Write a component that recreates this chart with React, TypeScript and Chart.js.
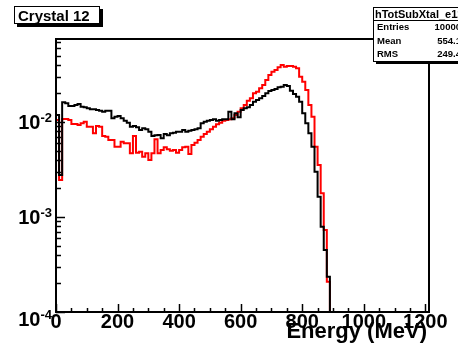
import React, { useEffect, useRef } from 'react';
import { Chart, registerables } from 'chart.js';

Chart.register(...registerables);

// ---- data (10 MeV bins starting at 0 MeV) ----
const binStart = 0;
const binWidth = 10;
const blackCounts = [
  0.01185, 0.00277, 0.01612, 0.01573, 0.01474, 0.01474, 0.0151, 0.01547, 0.0145, 0.01428,
  0.01394, 0.0136, 0.0136, 0.01338, 0.01315, 0.01284, 0.01315, 0.01315, 0.01094, 0.01137,
  0.01156, 0.01094, 0.01032, 0.00983, 0.00892, 0.00907, 0.0088, 0.00824, 0.00858, 0.00838,
  0.0079, 0.00712, 0.00724, 0.0073, 0.00674, 0.00748, 0.00724, 0.0076, 0.00772, 0.0079,
  0.0079, 0.00824, 0.0079, 0.0081, 0.00824, 0.00838, 0.00858, 0.0097, 0.01007, 0.01032,
  0.0105, 0.01068, 0.01032, 0.0105, 0.01068, 0.01068, 0.01284, 0.01068, 0.01235, 0.0112,
  0.01338, 0.01394, 0.01428, 0.0151, 0.01636, 0.01704, 0.01777, 0.01878, 0.02005, 0.0212,
  0.02172, 0.02226, 0.02319, 0.02353, 0.02452, 0.02393, 0.02136, 0.01971, 0.01846, 0.01636,
  0.01235, 0.0097, 0.0076, 0.0055, 0.003, 0.001636, 0.00079, 0.000449, 0.000235,
];
const redCounts = [
  0.0105, 0.00245, 0.01075, 0.01075, 0.0105, 0.00953, 0.00953, 0.0093, 0.0097, 0.01007,
  0.00892, 0.00892, 0.0076, 0.00907, 0.00892, 0.00712, 0.007, 0.00646, 0.00646, 0.0055,
  0.0055, 0.0062, 0.00597, 0.00597, 0.00468, 0.00712, 0.00475, 0.00487, 0.00431, 0.00468,
  0.00398, 0.00468, 0.00657, 0.00468, 0.00507, 0.00542, 0.00516, 0.00499, 0.00507, 0.00475,
  0.00507, 0.00542, 0.0055, 0.0046, 0.00573, 0.00605, 0.00646, 0.007, 0.00748, 0.0079,
  0.00838, 0.00892, 0.00946, 0.00983, 0.01032, 0.0105, 0.01068, 0.01094, 0.01185, 0.01284,
  0.01394, 0.0151, 0.01676, 0.01777, 0.02005, 0.02084, 0.02263, 0.02452, 0.02768, 0.03125,
  0.03385, 0.03527, 0.03766, 0.03981, 0.0382, 0.03886, 0.03886, 0.0382, 0.03676, 0.02999,
  0.02656, 0.02172, 0.0151, 0.01137, 0.0055, 0.00353, 0.00178, 0.00073, 0.000208,
];

const xMajorTicks = [0, 200, 400, 600, 800, 1000, 1200];
const xMinorStep = 50;
const yDecades = [-4, -3, -2];
const X_MIN = 0;
const X_MAX = 1212;
const Y_MIN = 1e-4;
const Y_MAX = 0.0748;

const titleText = 'Crystal 12';
const statsName = 'hTotSubXtal_e12';
const statsLabels = ['Entries', 'Mean', 'RMS'];
const statsValues = ['10000', '554.1', '249.4'];
const xTitle = 'Energy (MeV)';

const FONT = '"Liberation Sans", Arial, Helvetica, sans-serif';

function toSteps(vals: number[]) {
  const pts = vals.map((v, i) => ({ x: binStart + i * binWidth, y: v }));
  pts.push({ x: binStart + vals.length * binWidth, y: Y_MIN });
  return pts;
}

const decor = {
  id: 'rootDecor',
  afterDraw(chart: any) {
    const { ctx, chartArea: a, scales } = chart;
    const xs = scales.x;
    const ys = scales.y;
    ctx.save();
    ctx.strokeStyle = '#000';
    ctx.fillStyle = '#000';
    ctx.lineWidth = 2;
    // frame
    ctx.strokeRect(a.left, a.top, a.right - a.left, a.bottom - a.top);

    // x ticks
    ctx.lineWidth = 1.5;
    for (let v = X_MIN; v <= xMajorTicks[xMajorTicks.length - 1]; v += xMinorStep) {
      const px = Math.round(xs.getPixelForValue(v)) + 0.5;
      const major = xMajorTicks.includes(v);
      ctx.beginPath();
      ctx.moveTo(px, a.bottom);
      ctx.lineTo(px, a.bottom - (major ? 8 : 4));
      ctx.stroke();
    }
    // y ticks
    for (const d of yDecades) {
      for (let m = 1; m <= 9; m++) {
        const v = m * Math.pow(10, d);
        if (v < Y_MIN || v > Y_MAX) continue;
        const py = Math.round(ys.getPixelForValue(v)) + 0.5;
        ctx.beginPath();
        ctx.moveTo(a.left, py);
        ctx.lineTo(a.left + (m === 1 ? 9 : 5), py);
        ctx.stroke();
      }
    }
    // x labels
    ctx.font = `bold 20px ${FONT}`;
    ctx.textAlign = 'center';
    ctx.textBaseline = 'alphabetic';
    for (const v of xMajorTicks) {
      ctx.fillText(String(v), xs.getPixelForValue(v), a.bottom + 16);
    }
    // y labels 10^n
    for (const d of yDecades) {
      let py = ys.getPixelForValue(Math.pow(10, d));
      if (py > a.bottom - 2) py += 7;
      const sup = String(d);
      ctx.font = `bold 13px ${FONT}`;
      ctx.textAlign = 'right';
      const supW = ctx.measureText(sup).width;
      const right = a.left - 4;
      ctx.fillText(sup, right, py + 0);
      ctx.font = `bold 20px ${FONT}`;
      ctx.fillText('10', right - supW, py + 7);
    }
    // x title
    ctx.font = `bold 22px ${FONT}`;
    ctx.textAlign = 'right';
    ctx.fillText(xTitle, a.right - 2, a.bottom + 26);

    // title box
    ctx.fillStyle = '#000';
    ctx.fillRect(17, 9, 86, 18);
    ctx.fillStyle = '#fff';
    ctx.fillRect(14, 6, 86, 18);
    ctx.lineWidth = 1;
    ctx.strokeRect(14.5, 6.5, 85, 17);
    ctx.fillStyle = '#000';
    ctx.font = `bold 15px ${FONT}`;
    ctx.textAlign = 'left';
    ctx.fillText(titleText, 18, 21);

    // stats box
    const bx = 373, by = 7, bw = 100, bh = 54;
    ctx.fillStyle = '#000';
    ctx.fillRect(bx + 3, by + 3, bw, bh);
    ctx.fillStyle = '#fff';
    ctx.fillRect(bx, by, bw, bh);
    ctx.strokeRect(bx + 0.5, by + 0.5, bw, bh);
    ctx.beginPath();
    ctx.moveTo(bx, by + 13.5);
    ctx.lineTo(bx + bw, by + 13.5);
    ctx.stroke();
    ctx.fillStyle = '#000';
    ctx.font = `bold 11px ${FONT}`;
    ctx.textAlign = 'left';
    ctx.fillText(statsName, bx + 2, by + 11);
    ctx.font = `bold 9.5px ${FONT}`;
    statsLabels.forEach((lab, i) => {
      const yy = by + 23 + i * 13.7;
      ctx.textAlign = 'left';
      ctx.fillText(lab, bx + 4, yy);
      ctx.textAlign = 'right';
      ctx.fillText(statsValues[i], 461, yy);
    });
    ctx.restore();
  },
};

export default function App() {
  const ref = useRef<HTMLCanvasElement>(null);
  useEffect(() => {
    const canvas = ref.current!;
    const chart = new Chart(canvas, {
      type: 'line',
      data: {
        datasets: [
          {
            label: 'black',
            data: toSteps(blackCounts),
            borderColor: '#000000',
            borderWidth: 2,
            stepped: 'before',
            pointRadius: 0,
            fill: false,
          },
          {
            label: 'red',
            data: toSteps(redCounts),
            borderColor: '#ff0000',
            borderWidth: 2,
            stepped: 'before',
            pointRadius: 0,
            fill: false,
          },
        ],
      },
      options: {
        animation: false,
        responsive: false,
        devicePixelRatio: 1,
        events: [],
        layout: { padding: { left: 56, right: 29, top: 39, bottom: 34 } },
        plugins: {
          legend: { display: false },
          tooltip: { enabled: false },
          title: { display: false },
        },
        scales: {
          x: { type: 'linear', min: X_MIN, max: X_MAX, display: false },
          y: { type: 'logarithmic', min: Y_MIN, max: Y_MAX, display: false },
        },
      } as any,
      plugins: [decor],
    });
    return () => chart.destroy();
  }, []);
  return (
    <div style={{ position: 'fixed', left: 0, top: 0, width: 458, height: 346, background: '#fff' }}>
      <canvas ref={ref} width={458} height={346} style={{ display: 'block' }} />
    </div>
  );
}
